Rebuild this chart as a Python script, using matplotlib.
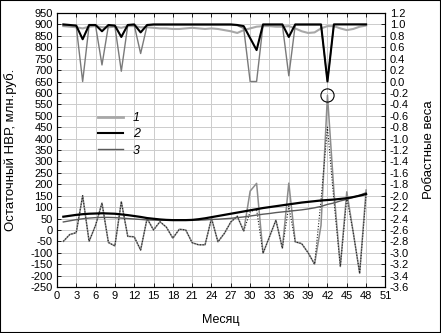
import matplotlib
matplotlib.use("Agg")
import matplotlib.pyplot as plt
from matplotlib.lines import Line2D
from matplotlib.patches import Rectangle

plt.rcParams['font.family'] = ['Liberation Sans', 'DejaVu Sans']
plt.rcParams['axes.unicode_minus'] = False

months = list(range(1, 49))

# residual NVR, mln rub (gray line)
nvr_fact = [-50, -20, -12, 150, -50, 20, 118, -55, -70, 124,
            -28, -30, -88, 50, 0, 36, 12, -36, 3, 0,
            -56, -65, -65, 51, -52, -15, 35, 60, -5, 170,
            204, -102, -30, 43, -80, 205, -52, -60, -100, -150,
            20, 590, 170, -160, 167, -10, -190, 175]
# dotted line
nvr_dot = [-50, -20, -12, 150, -50, 20, 118, -55, -70, 124,
           -28, -30, -88, 50, 0, 36, 12, -36, 3, 0,
           -56, -65, -65, 51, -52, -15, 35, 60, -5, 80,
           90, -102, -30, 43, -80, 105, -52, -60, -100, -150,
           130, 450, 130, -160, 140, -10, -190, 155]
# trends
trend_2 = [58, 62, 66, 69, 71, 72, 73, 72, 71, 68,
           65, 61, 57, 52, 49, 46, 44, 43, 43, 43,
           44, 47, 51, 56, 61, 66, 71, 76, 81, 86,
           91, 96, 100, 104, 108, 112, 116, 120, 123, 126,
           129, 131, 133, 136, 139, 144, 150, 157]
trend_3 = [35, 40, 45, 49, 52, 54, 55, 55, 54, 52,
           50, 48, 46, 44, 43, 43, 43, 43, 43, 43,
           43, 43, 44, 46, 47, 49, 51, 54, 57, 61,
           65, 69, 72, 76, 79, 82, 85, 88, 92, 97,
           103, 112, 118, 127, 134, 143, 152, 163]
# robust weights
w_1 = [0.97, 0.96, 0.95, 0.93, 0.96, 0.97, 0.95, 0.95, 0.96, 0.94,
       0.97, 0.97, 0.95, 0.95, 0.94, 0.93, 0.93, 0.92, 0.92, 0.93,
       0.94, 0.93, 0.92, 0.93, 0.92, 0.90, 0.88, 0.85, 0.90, 0.93,
       0.96, 0.97, 0.97, 0.96, 0.96, 0.97, 0.93, 0.88, 0.85, 0.86,
       0.93, 0.97, 0.97, 0.93, 0.90, 0.92, 0.96, 0.98]
w_2 = [1.0, 0.99, 0.98, 0.74, 0.99, 0.99, 0.88, 0.99, 0.98, 0.78,
       0.99, 1.0, 0.86, 0.99, 1.0, 1.0, 1.0, 1.0, 1.0, 1.0,
       1.0, 1.0, 1.0, 1.0, 1.0, 1.0, 1.0, 0.99, 0.97, 0.76,
       0.55, 1.0, 1.0, 1.0, 1.0, 0.78, 1.0, 1.0, 1.0, 1.0,
       1.0, 0.0, 1.0, 1.0, 1.0, 1.0, 1.0, 1.0]
w_3 = [0.98, 0.98, 0.97, 0.0, 0.98, 0.98, 0.29, 0.98, 0.97, 0.18,
       0.98, 0.99, 0.49, 0.98, 0.99, 0.99, 0.99, 0.99, 0.99, 0.99,
       0.99, 0.99, 0.99, 0.99, 0.99, 0.99, 0.99, 0.98, 0.93, 0.0,
       0.0, 0.99, 0.99, 0.99, 0.99, 0.1, 0.99, 0.99, 0.99, 0.99,
       0.99, 0.0, 1.0, 1.0, 1.0, 1.0, 1.0, 1.0]

outlier_month = 42
outlier_value = 590

c1 = '#a8a8a8'
c2 = 'black'
c3 = '#5a5a5a'

fig = plt.figure(figsize=(4.41, 3.33), dpi=100)
ax = fig.add_axes([0.129, 0.138, 0.745, 0.823])
ax2 = ax.twinx()

# lower part: NVR
ax.plot(months, nvr_fact, color='#8c8c8c', lw=1.1)
ax.plot(months, nvr_dot, color='#222222', lw=0.8, ls=(0, (1, 1.5)))
ax.plot(months, trend_3, color=c3, lw=1.0)
ax.plot(months, trend_2, color=c2, lw=1.6)
ax.plot([outlier_month], [outlier_value], 'o', mfc='none', mec='black',
        ms=9.5, mew=0.8)

# upper part: weights
ax2.plot(months, w_1, color=c1, lw=1.5)
ax2.plot(months, w_3, color='#7a7a7a', lw=1.0)
ax2.plot(months, w_2, color=c2, lw=1.5)

ax.set_xlim(0, 51)
ax.set_ylim(-250, 950)
ax2.set_ylim(-3.6, 1.2)
ax.set_xticks(range(0, 52, 3))
ax.set_yticks(range(-250, 951, 50))
ax2.set_yticks([i / 10 for i in range(-36, 13, 2)])
ax2.set_yticklabels(['%.1f' % (i / 10) for i in range(-36, 13, 2)])

ax.grid(True, color='#cccccc', lw=0.7)
ax.set_axisbelow(True)
for a in (ax, ax2):
    a.tick_params(direction='in', length=3, labelsize=8, width=0.6, pad=3)
    for s in a.spines.values():
        s.set_linewidth(0.8)
ax.tick_params(top=True)

ax.set_xlabel('Месяц', fontsize=9)
ax.set_ylabel('Остаточный НВР, млн.руб.', fontsize=9.5)
ax2.set_ylabel('Робастные веса', fontsize=9.5)
ax.xaxis.set_label_coords(0.5, -0.1)
ax.yaxis.set_label_coords(-0.12, 0.5)
ax2.yaxis.set_label_coords(1.115, 0.5)

handles = [Line2D([], [], color=c1, lw=2),
           Line2D([], [], color=c2, lw=1.5),
           Line2D([], [], color=c3, lw=1.0)]
leg = ax.legend(handles, ['1', '2', '3'], loc='upper left',
                bbox_to_anchor=(0.09, 0.68), frameon=False, fontsize=9,
                handlelength=2.0, labelspacing=0.35)
for t in leg.get_texts():
    t.set_style('italic')

fig.patches.append(Rectangle((0, 0), 1, 1, transform=fig.transFigure,
                             fill=False, edgecolor='black', lw=1.5))

fig.savefig('out.png', dpi=100)
